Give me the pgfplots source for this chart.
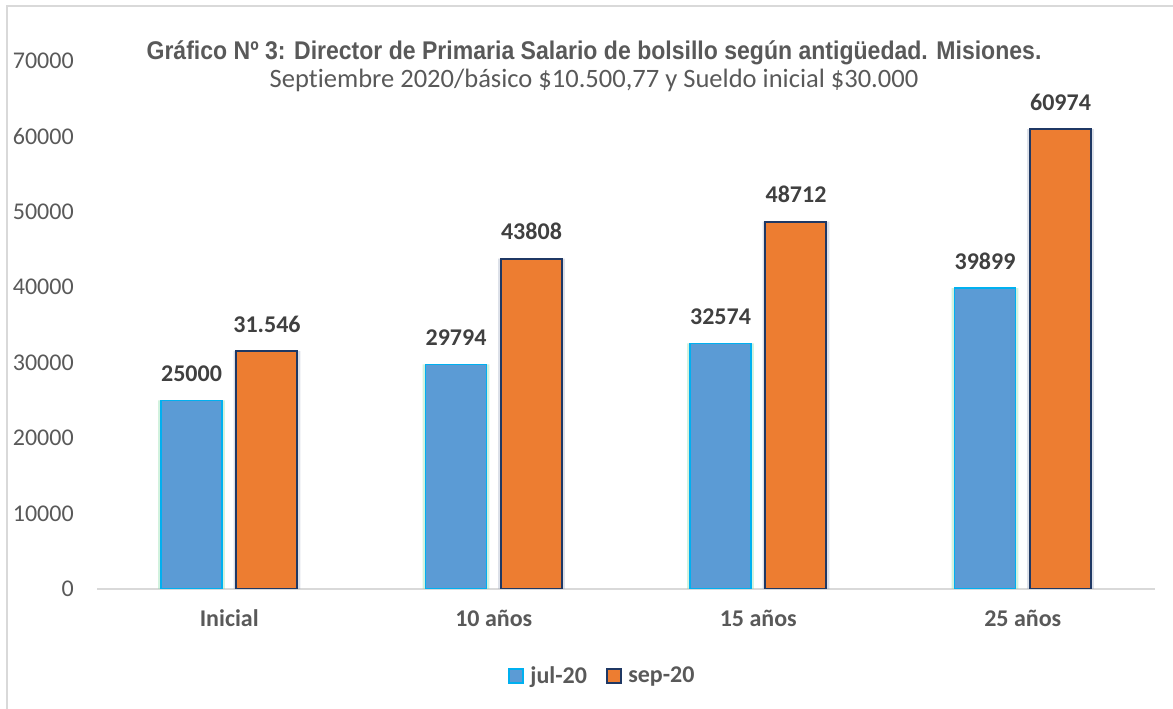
\documentclass[border=0pt]{standalone}
\usepackage{fontspec}
\setmainfont[Ligatures=NoCommon]{Carlito}
\newfontfamily\titlefont[FakeStretch=0.9]{Liberation Sans}
\usepackage{pgfplots}
\usepackage{pgfplotstable}
\pgfplotsset{compat=1.18}
\definecolor{blueF}{HTML}{5B9BD5}
\definecolor{blueE}{HTML}{00B0F0}
\definecolor{orangeF}{HTML}{ED7D31}
\definecolor{navyE}{HTML}{1F3864}
\definecolor{txt}{HTML}{595959}
\definecolor{lab}{HTML}{404040}
\definecolor{frame}{HTML}{D9D9D9}
\definecolor{glowG}{HTML}{7FD9A0}
\definecolor{glowS}{HTML}{8E9BB5}
\pgfplotstableread{
x jul sep seplabel
0 25000 31546 31.546
1 29794 43808 43808
2 32574 48712 48712
3 39899 60974 60974
}\datatable
\begin{document}
\begin{tikzpicture}
\useasboundingbox (0,0) rectangle (879.75pt,531.75pt);
\draw[color=frame, line width=1.5pt] (5.25pt,-20pt) -- (5.25pt,527.25pt) -- (900pt,527.25pt);
\node[font=\titlefont\bfseries\fontsize{19.2}{21}\selectfont, text=txt, anchor=base] at (445.5pt,486.75pt) {Gráfico Nº 3: Director de Primaria Salario de bolsillo según antigüedad. Misiones.};
\node[font=\fontsize{19.9}{22}\selectfont, text=txt, anchor=base] at (445.5pt,465.75pt) {Septiembre 2020/básico \$10.500,77 y Sueldo inicial \$30.000};
\begin{axis}[
  at={(72.75pt,90pt)}, anchor=south west,
  width=793.5pt, height=396pt, scale only axis,
  xmin=-0.5, xmax=3.5, ymin=0, ymax=70000,
  ybar, bar width=45.75pt,
  axis x line*=bottom, axis y line*=left,
  x axis line style={draw=frame, line width=1.2pt, -},
  y axis line style={draw=none},
  major tick length=0pt,
  xtick={0,1,2,3},
  xticklabels={Inicial,10 años,15 años,25 años},
  ytick={0,10000,...,70000},
  scaled y ticks=false,
  /pgf/number format/.cd, 1000 sep={}, assume math mode=true, /pgfplots/.cd,
  yticklabel style={anchor=east, inner sep=0pt, xshift=-17.25pt, text=txt, font=\fontsize{18}{20}\selectfont},
  xticklabel style={anchor=base, inner sep=0pt, yshift=-28.5pt, text=txt, font=\bfseries\fontsize{18}{20}\selectfont},
  nodes near coords style={anchor=base, inner sep=0pt, yshift=14pt, text=lab, font=\bfseries\fontsize{18}{20}\selectfont},
  legend columns=2,
  legend style={draw=none, at={(rel axis cs:0.478,-0.1648)}, anchor=center, font=\bfseries\fontsize{18}{20}\selectfont, text=txt,
    /tikz/every even column/.append style={column sep=12pt},
    /tikz/every odd column/.append style={column sep=3pt}},
  legend image code/.code={\draw[#1] (0pt,-5.25pt) rectangle (10.5pt,5.25pt);},
]
% soft glow behind bars
\addplot[forget plot, fill=glowG, draw=none, opacity=0.35, bar width=50pt, bar shift=-28.3pt] table[x=x, y=jul] {\datatable};
\addplot[forget plot, fill=glowS, draw=none, opacity=0.3, bar width=50pt, bar shift=28.3pt] table[x=x, y=sep] {\datatable};
\addplot[fill=blueF, draw=blueE, line width=1.1pt, bar shift=-28.3pt,
  nodes near coords, point meta=y] table[x=x, y=jul] {\datatable};
\addlegendentry{jul-20}
\addplot[fill=orangeF, draw=navyE, line width=1.5pt, bar shift=28.3pt,
  nodes near coords, point meta=explicit symbolic] table[x=x, y=sep, meta=seplabel] {\datatable};
\addlegendentry{sep-20}
\end{axis}
\end{tikzpicture}
\end{document}
